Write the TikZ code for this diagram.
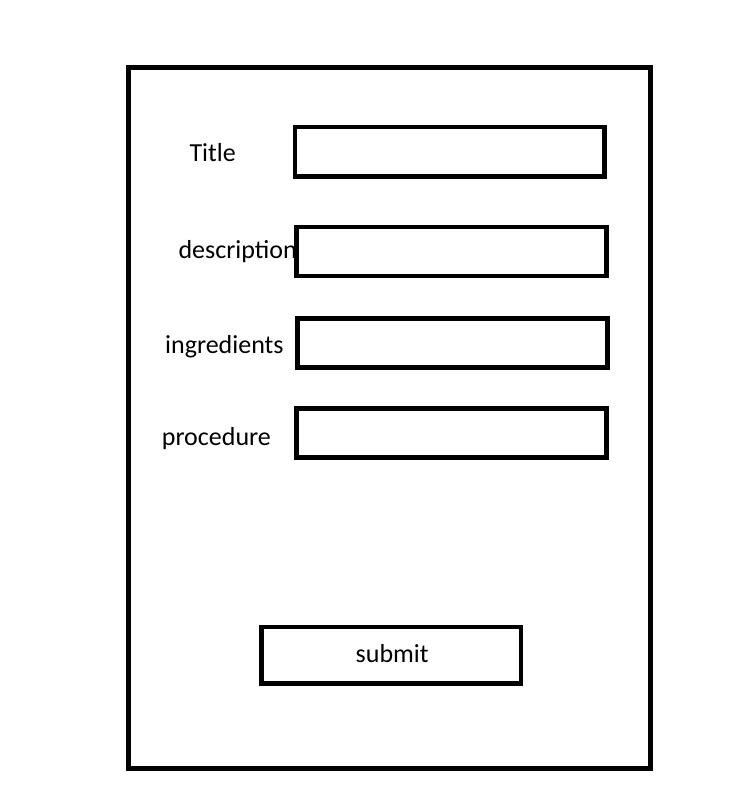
\documentclass[tikz,border=0pt]{standalone}
\usepackage{fontspec}
\setmainfont{Carlito}
\tikzset{
  frame/.style={draw=black, line width=4.6pt, inner sep=0pt, outer sep=0pt},
  lbl/.style={anchor=base west, inner sep=0pt, font=\fontsize{26}{30}\selectfont},
}
\begin{document}
\begin{tikzpicture}[x=1pt,y=-1pt]
\useasboundingbox (0,0) rectangle (743,812);
\fill[white] (0,0) rectangle (743,812);
\node[frame, minimum width=522.2pt, minimum height=700.5pt] (outer) at (389.6,418) {};
% labels
\node[lbl] (ltitle) at (189.3,161.7) {Title};
\node[lbl] (ldesc) at (178.3,258.3) {description};
\node[lbl] (ling) at (165,353.3) {ingredients};
\node[lbl] (lproc) at (161.7,445) {procedure};
% input boxes
\node[frame, minimum width=309.3pt, minimum height=49.5pt] (btitle) at (449.65,151.75) {};
\node[frame, minimum width=309.6pt, minimum height=49pt] (bdesc) at (451.5,251.5) {};
\node[frame, minimum width=309.8pt, minimum height=49pt] (bing) at (452.4,342.8) {};
\node[frame, minimum width=309.6pt, minimum height=49pt] (bproc) at (451.5,432.8) {};
% submit
\node[frame, minimum width=259.3pt, minimum height=56.4pt] (bsubmit) at (391.15,655) {};
\node[lbl, anchor=base] (lsubmit) at (392.2,662.3) {submit};
\end{tikzpicture}
\end{document}
